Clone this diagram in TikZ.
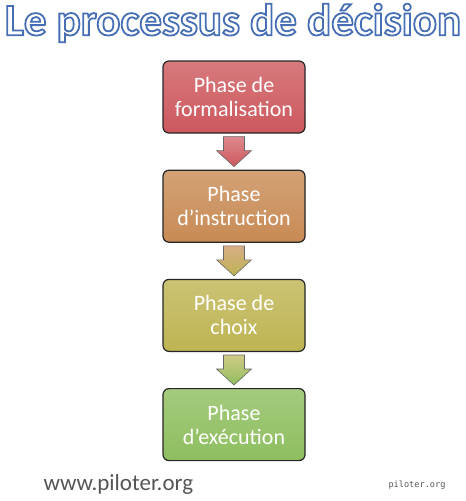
\documentclass[tikz,border=0pt]{standalone}
\usepackage{fontspec}
\setmainfont{Carlito}
\setmonofont{DejaVu Sans Mono}
\usetikzlibrary{positioning}
\usetikzlibrary{calc}
\usepackage{xcolor}
\definecolor{rouge}{RGB}{205,88,93}
\definecolor{ocre}{RGB}{200,138,84}
\definecolor{olive}{RGB}{190,180,82}
\definecolor{vert}{RGB}{142,190,94}
\definecolor{gris}{RGB}{85,85,85}
% texte au contour bleu (mode de rendu 2 : remplissage + trait)
\newcommand{\contourtitre}[1]{\color{white}%
  \special{pdf:literal direct 2 Tr 1.8 w 0.27 0.43 0.71 RG}#1%
  \special{pdf:literal direct 0 Tr}}

\begin{document}
\begin{tikzpicture}[x=1pt,y=-1pt,
phase/.style={rectangle,rounded corners=6pt,draw=black!85,line width=1.2pt,
  minimum width=142pt,minimum height=72pt,align=center,text=white,
  font=\fontsize{22}{24}\selectfont},
fleche/.style={draw=black!60,line width=0.6pt}]
\useasboundingbox (0,0) rectangle (466,501);

\node (titre) at (233,23) {\fontsize{45}{45}\selectfont\bfseries
  \contourtitre{Le processus de décision}};

\node[phase,top color=rouge!80!white,bottom color=rouge] (f1) at (234,97) {Phase de\\formalisation};
\node[phase,top color=ocre!80!white,bottom color=ocre,below=36pt of f1] (f2) {Phase\\d’instruction};
\node[phase,top color=olive!80!white,bottom color=olive,below=36pt of f2] (f3) {Phase de\\choix};
\node[phase,top color=vert!80!white,bottom color=vert,below=36pt of f3] (f4) {Phase\\d’exécution};

% fleches entre les phases
\foreach \a/\b/\ca/\cb in {f1/f2/rouge/rouge,f2/f3/ocre/olive,f3/f4/olive/vert}{
  \coordinate (m) at ($(\a.south)!0.5!(\b.north)$);
  \draw[fleche,top color=\ca!70!white,bottom color=\cb]
    ($(m)+(-10.5,-15)$) -- ++(21,0) -- ++(0,14) -- ++(7,0)
    -- ($(m)+(0,15)$) -- ($(m)+(-17.5,-1)$) -- ++(7,0) -- cycle;
}

\node[text=gris,font=\fontsize{23}{23}\selectfont,anchor=west] (site) at (40,484) {www.piloter.org};
\node[text=gris,font=\ttfamily\fontsize{8.6}{10}\selectfont,anchor=east] (marque) at (449,485) {piloter.org};
\end{tikzpicture}
\end{document}
